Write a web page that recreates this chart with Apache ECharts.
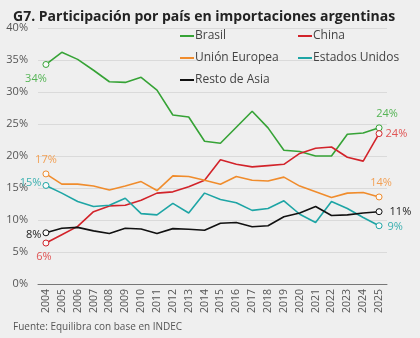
<!DOCTYPE html>
<html>
<head>
<meta charset="utf-8">
<script src="https://cdn.jsdelivr.net/npm/echarts@6/dist/echarts.min.js"></script>
<style>
  html,body{margin:0;padding:0;background:#efefef;}
  #chart{width:420px;height:338px;}
</style>
</head>
<body>
<div id="chart"></div>
<script>
// años
var years=['2004','2005','2006','2007','2008','2009','2010','2011','2012','2013','2014',
  '2015','2016','2017','2018','2019','2020','2021','2022','2023','2024','2025'];
// participación (%) por origen
var brasil=[34.3,36.2,35.1,33.4,31.6,31.5,32.3,30.3,26.4,26.1,22.3,22.0,24.5,27.0,24.4,20.9,20.7,20.0,20.0,23.4,23.6,24.4];
var china=[6.4,7.7,9.0,11.3,12.2,12.3,13.1,14.2,14.4,15.2,16.2,19.4,18.7,18.3,18.5,18.7,20.4,21.2,21.4,19.8,19.2,23.5];
var ue=[17.2,15.6,15.6,15.3,14.7,15.3,16.0,14.6,16.9,16.8,16.2,15.6,16.8,16.2,16.1,16.7,15.3,14.4,13.5,14.2,14.3,13.6];
var eeuu=[15.4,14.2,12.9,12.1,12.3,13.4,11.0,10.8,12.6,11.1,14.2,13.2,12.7,11.5,11.8,13.0,10.9,9.6,12.9,11.8,10.4,9.1];
var asia=[8.0,8.7,8.85,8.3,7.9,8.7,8.6,7.9,8.65,8.55,8.4,9.5,9.6,8.95,9.1,10.5,11.1,12.1,10.7,10.8,11.1,11.3];
var yTicks=[0,5,10,15,20,25,30,35,40];

var FONT='Open Sans';
var chart=echarts.init(document.getElementById('chart'));

//arma los datos con circulo y etiqueta en los extremos
function mk(arr,color,labColor,first,last){
  return arr.map(function(v,i){
    if(i===0||i===arr.length-1){
      var p=i===0?first:last;
      return {value:v,symbolSize:6,
        itemStyle:{color:'#fafafa',borderColor:color,borderWidth:1},
        label:{show:true,color:labColor,fontSize:11,fontFamily:FONT,
        position:p.pos,offset:p.off,formatter:Math.round(v)+'%'}};
    }
    return {value:v};
  });
}
function serie(name,arr,color,labColor,first,last){
  return {
    name:name,type:'line',data:mk(arr,color,labColor,first,last),
    symbol:'circle',symbolSize:0,showAllSymbol:true,
    itemStyle:{color:color},
    lineStyle:{color:color,width:1.6},
    label:{show:false},
    emphasis:{disabled:true},animation:false
  };
}

chart.setOption({
  backgroundColor:'#efefef',
  title:[{
    text:'G7. Participación por país en importaciones argentinas',
    left:8,top:5,
    textStyle:{fontFamily:FONT,fontSize:14,fontWeight:'bold',color:'#222'}
  },{
    text:'Fuente: Equilibra con base en INDEC',
    left:8,top:317,
    textStyle:{fontFamily:FONT,fontSize:10,fontWeight:'normal',color:'#555'}
  }],
  legend:[{
    data:['Brasil','Unión Europea','Resto de Asia'],
    orient:'vertical',left:175,top:25,itemGap:10,
    icon:'rect',itemWidth:14,itemHeight:2,
    textStyle:{fontFamily:FONT,fontSize:12,color:'#444',padding:[0,0,0,-4]}
  },{
    data:['China','Estados Unidos'],
    orient:'vertical',left:293,top:25,itemGap:10,
    icon:'rect',itemWidth:14,itemHeight:2,
    textStyle:{fontFamily:FONT,fontSize:12,color:'#444',padding:[0,0,0,-4]}
  }],
  grid:{left:38,right:33,top:28,bottom:54},
  xAxis:{
    type:'category',data:years,boundaryGap:true,
    axisLine:{lineStyle:{color:'#777',width:1}},
    axisTick:{show:false},
    axisLabel:{rotate:90,color:'#555',fontSize:10.5,fontFamily:FONT,margin:5,interval:0}
  },
  yAxis:{
    type:'value',min:0,max:40,interval:5,
    axisLine:{show:false},axisTick:{show:false},
    axisLabel:{color:'#555',fontSize:11,fontFamily:FONT,margin:10,formatter:'{value}%'},
    splitLine:{lineStyle:{color:'#dadada',width:1}}
  },
  series:[
    serie('Brasil',brasil,'#36a336','#55b455',{pos:'bottom',off:[-10,0]},{pos:'top',off:[8,0]}),
    serie('China',china,'#d2232a','#e05555',{pos:'bottom',off:[-2,0]},{pos:'right',off:[-2,0]}),
    serie('Unión Europea',ue,'#f08c2c','#f2a055',{pos:'top',off:[0,0]},{pos:'top',off:[2,0]}),
    serie('Estados Unidos',eeuu,'#1ea5a5','#3bb0b0',{pos:'left',off:[4,-3]},{pos:'right',off:[0,1]}),
    serie('Resto de Asia',asia,'#111111','#222222',{pos:'left',off:[4,2]},{pos:'right',off:[2,0]})
  ]
});
</script>
</body>
</html>
